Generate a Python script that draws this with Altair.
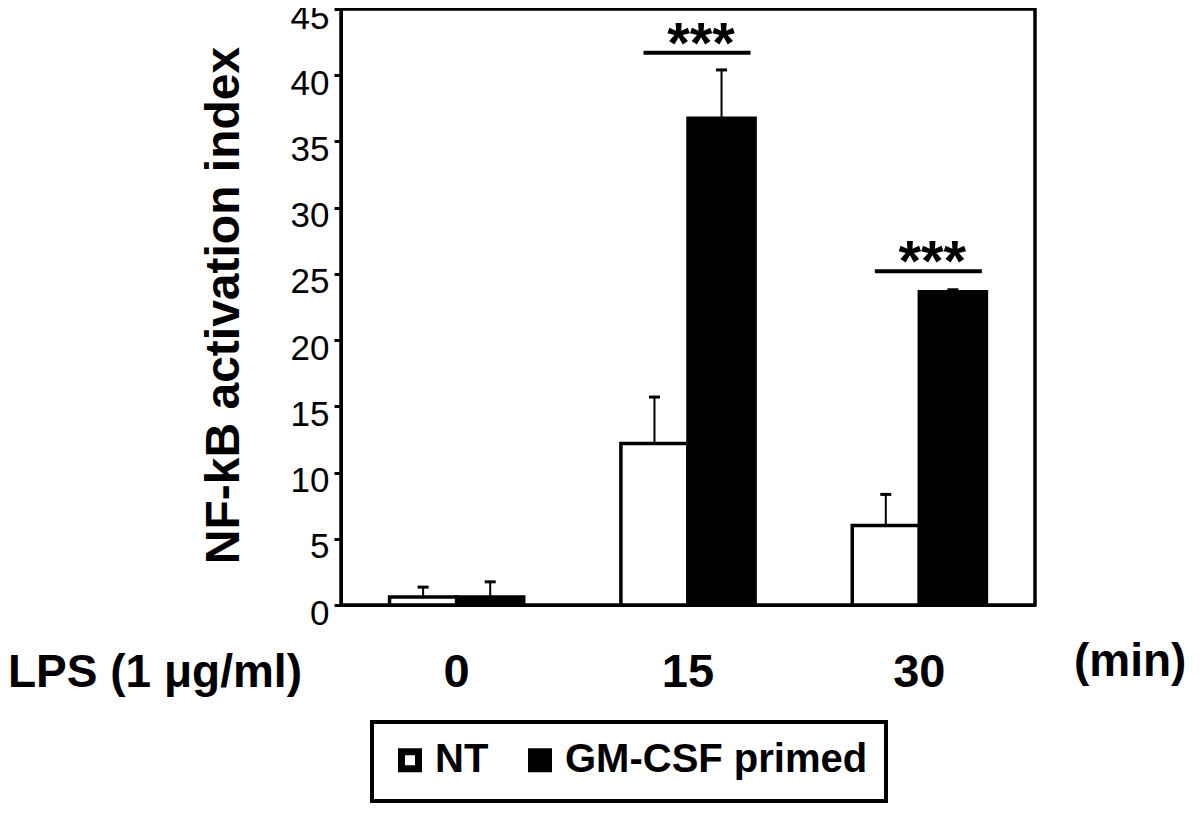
import altair as alt
import pandas as pd

# ---- data ----
groups = ["0", "15", "30"]
series = ["NT", "GM-CSF primed"]
nt_mean = [0.6, 12.2, 6.0]
nt_err = [0.75, 3.5, 2.35]
gm_mean = [0.6, 36.75, 23.65]
gm_err = [1.15, 3.65, 0.15]
sig_groups = ["15", "30"]
sig_y = [41.7, 25.2]
sig_label = ["***", "***"]
y_ticks = [0, 5, 10, 15, 20, 25, 30, 35, 40, 45]
y_title = "NF-kB activation index"
x_title = "LPS (1 μg/ml)"
unit_label = "(min)"

rows = []
for g, m, e in zip(groups, nt_mean, nt_err):
    rows.append({"group": g, "series": series[0], "mean": m, "top": m + e})
for g, m, e in zip(groups, gm_mean, gm_err):
    rows.append({"group": g, "series": series[1], "mean": m, "top": m + e})
df = pd.DataFrame(rows)
sig_df = pd.DataFrame({"group": sig_groups, "y": sig_y, "label": sig_label})

FONT = "Liberation Sans, Arial, Helvetica, sans-serif"

xenc = alt.X(
    "group:N", sort=groups,
    scale=alt.Scale(paddingInner=0.42, paddingOuter=0.21),
    axis=alt.Axis(title=None, labelFontSize=47, labelFontWeight="bold", labelFont=FONT,
                  labelColor="black", labelPadding=44, ticks=False, tickSize=0,
                  domainColor="black", domainWidth=3, labelAngle=0),
)
xoff = alt.XOffset("series:N", sort=series, scale=alt.Scale(paddingInner=0, paddingOuter=0))
yscale = alt.Scale(domain=[0, 45], nice=False, zero=True)

bars = alt.Chart(df).mark_bar(stroke="black", strokeWidth=3.5, opacity=1).encode(
    x=xenc,
    xOffset=xoff,
    y=alt.Y("mean:Q", scale=yscale,
            axis=alt.Axis(values=y_ticks, grid=False, title=y_title,
                          labelFontSize=35, labelFont=FONT, labelColor="black",
                          labelPadding=5, labelOffset=8, tickSize=7, tickWidth=3,
                          tickColor="black", domainColor="black", domainWidth=3,
                          titleFontSize=48, titleFont=FONT, titleFontWeight="bold",
                          titleColor="black", titleX=-93, titleY=296, titleAngle=270,
                          titleAlign="center", titleBaseline="bottom")),
    fill=alt.Fill("series:N", sort=series,
                  scale=alt.Scale(domain=series, range=["white", "black"]),
                  legend=alt.Legend(title=None, orient="none", legendX=31, legendY=713,
                                    direction="horizontal", symbolType="square",
                                    symbolSize=289, symbolStrokeColor="black",
                                    symbolStrokeWidth=7, labelFontSize=40,
                                    labelFont=FONT, labelFontWeight="bold",
                                    labelColor="black", labelOffset=5, labelLimit=0,
                                    columnPadding=28, padding=18,
                                    strokeColor="black")),
)

err = alt.Chart(df).mark_rule(color="black", strokeWidth=2, opacity=1).encode(
    x=xenc, xOffset=xoff, y=alt.Y("mean:Q", scale=yscale), y2="top:Q"
)
caps = alt.Chart(df).mark_tick(color="black", thickness=3, size=11, orient="horizontal",
                               opacity=1).encode(
    x=xenc, xOffset=xoff, y=alt.Y("top:Q", scale=yscale)
)

sig = alt.Chart(sig_df).mark_tick(color="black", thickness=4, size=107, opacity=1,
                                  orient="horizontal", xOffset=9).encode(
    x=xenc, y=alt.Y("y:Q", scale=yscale)
)
stars = alt.Chart(sig_df).mark_text(fontSize=58, fontWeight="bold", font=FONT,
                                    color="black", dx=13, dy=10,
                                    baseline="alphabetic", align="center").encode(
    x=xenc, y=alt.Y("y:Q", scale=yscale), text="label:N"
)

lps = alt.Chart(pd.DataFrame({"t": [x_title]})).mark_text(
    fontSize=46, fontWeight="bold", font=FONT, color="black",
    align="left", baseline="top").encode(
    text="t:N", x=alt.value(-333), y=alt.value(642)
)
unit = alt.Chart(pd.DataFrame({"t": [unit_label]})).mark_text(
    fontSize=46, fontWeight="bold", font=FONT, color="black",
    align="left", baseline="top").encode(
    text="t:N", x=alt.value(733), y=alt.value(631)
)

chart = alt.layer(bars, err, caps, sig, stars, lps, unit).properties(
    width=694, height=596,
    autosize=alt.AutoSizeParams(type="none"),
    padding={"left": 333, "top": 1, "right": 157, "bottom": 209},
    background="white",
).configure_view(stroke="black", strokeWidth=3.5).configure_legend(strokeWidth=4)

chart.save("out.html", embed_options={"renderer": "svg", "actions": False})
